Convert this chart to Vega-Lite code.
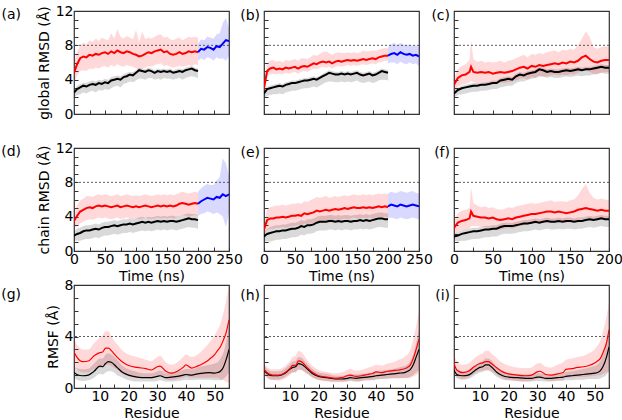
{
"$schema":"https://vega.github.io/schema/vega-lite/v6.json",
"padding":{"left":0,"top":3,"right":0,"bottom":0},
"background":"white",
"datasets":{"d":[
{"p":"a","s":"k","x":0,"y":2.5,"l":1.9,"h":2.8},{"p":"a","s":"k","x":5,"y":2.9,"l":2.2,"h":3.3},{"p":"a","s":"k","x":10,"y":3.1,"l":2.3,"h":3.5},{"p":"a","s":"k","x":15,"y":3.3,"l":2.5,"h":3.6},{"p":"a","s":"k","x":20,"y":3.2,"l":2.4,"h":3.6},{"p":"a","s":"k","x":25,"y":3.4,"l":2.6,"h":3.8},{"p":"a","s":"k","x":30,"y":3.5,"l":2.7,"h":3.9},{"p":"a","s":"k","x":35,"y":3.4,"l":2.5,"h":3.8},{"p":"a","s":"k","x":40,"y":3.6,"l":2.8,"h":4.0},{"p":"a","s":"k","x":45,"y":3.5,"l":2.7,"h":3.9},{"p":"a","s":"k","x":50,"y":3.7,"l":2.9,"h":4.1},{"p":"a","s":"k","x":55,"y":3.6,"l":2.8,"h":4.0},{"p":"a","s":"k","x":60,"y":3.9,"l":3.0,"h":4.3},{"p":"a","s":"k","x":65,"y":4.0,"l":3.2,"h":4.4},{"p":"a","s":"k","x":70,"y":4.1,"l":3.3,"h":4.5},{"p":"a","s":"k","x":75,"y":4.0,"l":3.1,"h":4.4},{"p":"a","s":"k","x":80,"y":4.3,"l":3.5,"h":4.6},{"p":"a","s":"k","x":85,"y":4.4,"l":3.6,"h":4.8},{"p":"a","s":"k","x":90,"y":4.6,"l":3.8,"h":4.9},{"p":"a","s":"k","x":95,"y":4.5,"l":3.7,"h":4.9},{"p":"a","s":"k","x":100,"y":4.8,"l":3.9,"h":5.1},{"p":"a","s":"k","x":105,"y":5.1,"l":4.1,"h":5.4},{"p":"a","s":"k","x":110,"y":5.0,"l":4.1,"h":5.3},{"p":"a","s":"k","x":115,"y":4.9,"l":4.0,"h":5.2},{"p":"a","s":"k","x":120,"y":5.1,"l":4.2,"h":5.4},{"p":"a","s":"k","x":125,"y":5.0,"l":4.2,"h":5.3},{"p":"a","s":"k","x":130,"y":4.8,"l":4.0,"h":5.1},{"p":"a","s":"k","x":135,"y":5.0,"l":4.1,"h":5.3},{"p":"a","s":"k","x":140,"y":4.9,"l":4.0,"h":5.2},{"p":"a","s":"k","x":145,"y":5.0,"l":4.2,"h":5.3},{"p":"a","s":"k","x":150,"y":4.9,"l":4.1,"h":5.2},{"p":"a","s":"k","x":155,"y":5.0,"l":4.1,"h":5.3},{"p":"a","s":"k","x":160,"y":4.8,"l":4.0,"h":5.1},{"p":"a","s":"k","x":165,"y":4.9,"l":4.1,"h":5.2},{"p":"a","s":"k","x":170,"y":5.0,"l":4.2,"h":5.3},{"p":"a","s":"k","x":175,"y":4.9,"l":4.0,"h":5.2},{"p":"a","s":"k","x":180,"y":5.1,"l":4.2,"h":5.4},{"p":"a","s":"k","x":185,"y":5.2,"l":4.3,"h":5.5},{"p":"a","s":"k","x":190,"y":5.3,"l":4.4,"h":5.6},{"p":"a","s":"k","x":195,"y":5.1,"l":4.3,"h":5.4},{"p":"a","s":"k","x":200,"y":5.0,"l":4.2,"h":5.3},
{"p":"a","s":"r","x":0,"y":4.8,"l":3.6,"h":6.0},{"p":"a","s":"r","x":5,"y":5.8,"l":4.5,"h":7.2},{"p":"a","s":"r","x":10,"y":6.5,"l":5.0,"h":8.0},{"p":"a","s":"r","x":15,"y":6.7,"l":5.1,"h":8.3},{"p":"a","s":"r","x":20,"y":6.6,"l":5.0,"h":8.1},{"p":"a","s":"r","x":25,"y":6.9,"l":5.3,"h":8.6},{"p":"a","s":"r","x":30,"y":6.8,"l":5.2,"h":8.4},{"p":"a","s":"r","x":35,"y":7.0,"l":5.4,"h":8.8},{"p":"a","s":"r","x":40,"y":6.9,"l":5.3,"h":8.5},{"p":"a","s":"r","x":45,"y":7.1,"l":5.5,"h":8.9},{"p":"a","s":"r","x":50,"y":7.2,"l":5.6,"h":8.7},{"p":"a","s":"r","x":55,"y":7.0,"l":5.4,"h":8.6},{"p":"a","s":"r","x":60,"y":7.3,"l":5.7,"h":9.4},{"p":"a","s":"r","x":65,"y":7.1,"l":5.5,"h":8.8},{"p":"a","s":"r","x":70,"y":7.4,"l":5.8,"h":9.9},{"p":"a","s":"r","x":75,"y":7.2,"l":5.6,"h":9.0},{"p":"a","s":"r","x":80,"y":7.1,"l":5.5,"h":8.8},{"p":"a","s":"r","x":85,"y":7.3,"l":5.7,"h":9.1},{"p":"a","s":"r","x":90,"y":7.2,"l":5.6,"h":8.9},{"p":"a","s":"r","x":95,"y":7.0,"l":5.5,"h":8.7},{"p":"a","s":"r","x":100,"y":6.9,"l":5.3,"h":9.8},{"p":"a","s":"r","x":105,"y":6.7,"l":5.2,"h":8.4},{"p":"a","s":"r","x":110,"y":6.8,"l":5.3,"h":9.6},{"p":"a","s":"r","x":115,"y":7.0,"l":5.4,"h":8.7},{"p":"a","s":"r","x":120,"y":7.2,"l":5.6,"h":8.9},{"p":"a","s":"r","x":125,"y":7.1,"l":5.5,"h":8.8},{"p":"a","s":"r","x":130,"y":7.3,"l":5.7,"h":9.0},{"p":"a","s":"r","x":135,"y":7.4,"l":5.8,"h":9.2},{"p":"a","s":"r","x":140,"y":7.5,"l":5.9,"h":9.3},{"p":"a","s":"r","x":145,"y":7.2,"l":5.6,"h":8.9},{"p":"a","s":"r","x":150,"y":7.3,"l":5.7,"h":9.0},{"p":"a","s":"r","x":155,"y":7.0,"l":5.5,"h":8.7},{"p":"a","s":"r","x":160,"y":6.9,"l":5.4,"h":8.6},{"p":"a","s":"r","x":165,"y":7.0,"l":5.5,"h":8.8},{"p":"a","s":"r","x":170,"y":7.2,"l":5.6,"h":8.9},{"p":"a","s":"r","x":175,"y":7.0,"l":5.5,"h":8.6},{"p":"a","s":"r","x":180,"y":7.1,"l":5.6,"h":8.8},{"p":"a","s":"r","x":185,"y":7.3,"l":5.7,"h":9.0},{"p":"a","s":"r","x":190,"y":7.2,"l":5.6,"h":8.9},{"p":"a","s":"r","x":195,"y":7.3,"l":5.8,"h":9.0},{"p":"a","s":"r","x":200,"y":7.2,"l":5.7,"h":8.9},
{"p":"a","s":"b","x":200,"y":7.2,"l":6.2,"h":8.2},{"p":"a","s":"b","x":205,"y":7.6,"l":6.5,"h":8.7},{"p":"a","s":"b","x":210,"y":7.5,"l":6.3,"h":8.6},{"p":"a","s":"b","x":215,"y":7.8,"l":6.6,"h":9.0},{"p":"a","s":"b","x":220,"y":7.7,"l":6.5,"h":8.9},{"p":"a","s":"b","x":225,"y":7.5,"l":6.2,"h":8.8},{"p":"a","s":"b","x":230,"y":7.9,"l":6.6,"h":9.3},{"p":"a","s":"b","x":235,"y":7.8,"l":6.4,"h":9.4},{"p":"a","s":"b","x":240,"y":8.2,"l":6.5,"h":10.6},{"p":"a","s":"b","x":245,"y":8.6,"l":6.2,"h":11.2},{"p":"a","s":"b","x":250,"y":8.5,"l":6.8,"h":10.0},
{"p":"b","s":"k","x":0,"y":2.4,"l":1.8,"h":2.7},{"p":"b","s":"k","x":5,"y":2.9,"l":2.1,"h":3.2},{"p":"b","s":"k","x":10,"y":3.0,"l":2.2,"h":3.3},{"p":"b","s":"k","x":15,"y":3.1,"l":2.3,"h":3.4},{"p":"b","s":"k","x":20,"y":3.2,"l":2.3,"h":3.5},{"p":"b","s":"k","x":25,"y":3.3,"l":2.4,"h":3.6},{"p":"b","s":"k","x":30,"y":3.2,"l":2.3,"h":3.5},{"p":"b","s":"k","x":35,"y":3.4,"l":2.5,"h":3.7},{"p":"b","s":"k","x":40,"y":3.5,"l":2.6,"h":3.8},{"p":"b","s":"k","x":45,"y":3.6,"l":2.7,"h":3.9},{"p":"b","s":"k","x":50,"y":3.6,"l":2.7,"h":3.9},{"p":"b","s":"k","x":55,"y":3.7,"l":2.8,"h":4.0},{"p":"b","s":"k","x":60,"y":3.8,"l":2.9,"h":4.1},{"p":"b","s":"k","x":65,"y":3.9,"l":3.0,"h":4.2},{"p":"b","s":"k","x":70,"y":3.9,"l":3.0,"h":4.2},{"p":"b","s":"k","x":75,"y":4.0,"l":3.1,"h":4.3},{"p":"b","s":"k","x":80,"y":4.1,"l":3.2,"h":4.4},{"p":"b","s":"k","x":85,"y":4.0,"l":3.1,"h":4.3},{"p":"b","s":"k","x":90,"y":4.2,"l":3.3,"h":4.5},{"p":"b","s":"k","x":95,"y":4.4,"l":3.5,"h":4.7},{"p":"b","s":"k","x":100,"y":4.6,"l":3.7,"h":4.9},{"p":"b","s":"k","x":105,"y":4.8,"l":3.8,"h":5.1},{"p":"b","s":"k","x":110,"y":4.7,"l":3.8,"h":5.0},{"p":"b","s":"k","x":115,"y":4.6,"l":3.7,"h":4.9},{"p":"b","s":"k","x":120,"y":4.6,"l":3.7,"h":4.9},{"p":"b","s":"k","x":125,"y":4.7,"l":3.8,"h":5.0},{"p":"b","s":"k","x":130,"y":4.6,"l":3.7,"h":4.9},{"p":"b","s":"k","x":135,"y":4.7,"l":3.8,"h":5.0},{"p":"b","s":"k","x":140,"y":4.6,"l":3.7,"h":4.9},{"p":"b","s":"k","x":145,"y":4.7,"l":3.8,"h":5.0},{"p":"b","s":"k","x":150,"y":4.8,"l":3.9,"h":5.1},{"p":"b","s":"k","x":155,"y":4.6,"l":3.7,"h":4.9},{"p":"b","s":"k","x":160,"y":4.5,"l":3.6,"h":4.8},{"p":"b","s":"k","x":165,"y":4.6,"l":3.7,"h":4.9},{"p":"b","s":"k","x":170,"y":4.7,"l":3.8,"h":5.0},{"p":"b","s":"k","x":175,"y":4.5,"l":3.6,"h":4.8},{"p":"b","s":"k","x":180,"y":4.6,"l":3.7,"h":4.9},{"p":"b","s":"k","x":185,"y":4.8,"l":3.9,"h":5.1},{"p":"b","s":"k","x":190,"y":5.0,"l":4.0,"h":5.3},{"p":"b","s":"k","x":195,"y":4.9,"l":4.0,"h":5.2},{"p":"b","s":"k","x":200,"y":4.8,"l":3.9,"h":5.1},
{"p":"b","s":"r","x":0,"y":3.0,"l":2.5,"h":3.5},{"p":"b","s":"r","x":5,"y":5.0,"l":4.3,"h":5.9},{"p":"b","s":"r","x":10,"y":5.3,"l":4.6,"h":6.2},{"p":"b","s":"r","x":15,"y":5.4,"l":4.7,"h":6.3},{"p":"b","s":"r","x":20,"y":5.2,"l":4.6,"h":6.1},{"p":"b","s":"r","x":25,"y":5.3,"l":4.7,"h":6.2},{"p":"b","s":"r","x":30,"y":5.2,"l":4.6,"h":6.0},{"p":"b","s":"r","x":35,"y":5.4,"l":4.8,"h":6.3},{"p":"b","s":"r","x":40,"y":5.3,"l":4.7,"h":6.2},{"p":"b","s":"r","x":45,"y":5.4,"l":4.8,"h":6.3},{"p":"b","s":"r","x":50,"y":5.5,"l":4.9,"h":6.4},{"p":"b","s":"r","x":55,"y":5.3,"l":4.7,"h":6.2},{"p":"b","s":"r","x":60,"y":5.5,"l":4.9,"h":6.5},{"p":"b","s":"r","x":65,"y":5.6,"l":5.0,"h":6.5},{"p":"b","s":"r","x":70,"y":5.5,"l":4.9,"h":6.4},{"p":"b","s":"r","x":75,"y":5.7,"l":5.1,"h":6.6},{"p":"b","s":"r","x":80,"y":5.9,"l":5.3,"h":6.9},{"p":"b","s":"r","x":85,"y":5.8,"l":5.2,"h":6.8},{"p":"b","s":"r","x":90,"y":6.0,"l":5.4,"h":7.0},{"p":"b","s":"r","x":95,"y":6.1,"l":5.5,"h":7.2},{"p":"b","s":"r","x":100,"y":6.0,"l":5.4,"h":7.3},{"p":"b","s":"r","x":105,"y":6.1,"l":5.5,"h":7.1},{"p":"b","s":"r","x":110,"y":5.9,"l":5.3,"h":6.9},{"p":"b","s":"r","x":115,"y":6.1,"l":5.5,"h":7.1},{"p":"b","s":"r","x":120,"y":6.2,"l":5.6,"h":7.2},{"p":"b","s":"r","x":125,"y":6.1,"l":5.5,"h":7.1},{"p":"b","s":"r","x":130,"y":6.2,"l":5.6,"h":7.1},{"p":"b","s":"r","x":135,"y":6.3,"l":5.7,"h":7.2},{"p":"b","s":"r","x":140,"y":6.2,"l":5.6,"h":7.1},{"p":"b","s":"r","x":145,"y":6.3,"l":5.7,"h":7.2},{"p":"b","s":"r","x":150,"y":6.2,"l":5.6,"h":7.1},{"p":"b","s":"r","x":155,"y":6.3,"l":5.7,"h":7.2},{"p":"b","s":"r","x":160,"y":6.4,"l":5.8,"h":7.4},{"p":"b","s":"r","x":165,"y":6.3,"l":5.7,"h":7.3},{"p":"b","s":"r","x":170,"y":6.4,"l":5.8,"h":7.3},{"p":"b","s":"r","x":175,"y":6.5,"l":5.9,"h":7.4},{"p":"b","s":"r","x":180,"y":6.4,"l":5.8,"h":7.4},{"p":"b","s":"r","x":185,"y":6.6,"l":6.0,"h":7.5},{"p":"b","s":"r","x":190,"y":6.7,"l":6.1,"h":7.6},{"p":"b","s":"r","x":195,"y":6.8,"l":6.2,"h":7.7},{"p":"b","s":"r","x":200,"y":6.8,"l":6.2,"h":7.6},
{"p":"b","s":"b","x":200,"y":6.8,"l":5.9,"h":7.8},{"p":"b","s":"b","x":205,"y":7.0,"l":6.0,"h":8.1},{"p":"b","s":"b","x":210,"y":7.1,"l":6.0,"h":8.3},{"p":"b","s":"b","x":215,"y":6.9,"l":5.8,"h":8.0},{"p":"b","s":"b","x":220,"y":7.2,"l":6.1,"h":8.3},{"p":"b","s":"b","x":225,"y":7.0,"l":5.9,"h":8.1},{"p":"b","s":"b","x":230,"y":6.9,"l":5.8,"h":8.0},{"p":"b","s":"b","x":235,"y":7.0,"l":6.0,"h":8.1},{"p":"b","s":"b","x":240,"y":6.8,"l":5.8,"h":7.9},{"p":"b","s":"b","x":245,"y":6.9,"l":5.9,"h":8.0},{"p":"b","s":"b","x":250,"y":6.7,"l":5.6,"h":7.8},
{"p":"c","s":"k","x":0,"y":2.4,"l":1.9,"h":2.7},{"p":"c","s":"k","x":5,"y":2.8,"l":2.2,"h":3.1},{"p":"c","s":"k","x":10,"y":3.0,"l":2.3,"h":3.3},{"p":"c","s":"k","x":15,"y":3.1,"l":2.4,"h":3.4},{"p":"c","s":"k","x":20,"y":3.2,"l":2.5,"h":3.5},{"p":"c","s":"k","x":25,"y":3.3,"l":2.6,"h":3.6},{"p":"c","s":"k","x":30,"y":3.3,"l":2.6,"h":3.6},{"p":"c","s":"k","x":35,"y":3.4,"l":2.7,"h":3.7},{"p":"c","s":"k","x":40,"y":3.4,"l":2.7,"h":3.7},{"p":"c","s":"k","x":45,"y":3.5,"l":2.8,"h":3.8},{"p":"c","s":"k","x":50,"y":3.6,"l":2.9,"h":3.9},{"p":"c","s":"k","x":55,"y":3.6,"l":2.9,"h":3.9},{"p":"c","s":"k","x":60,"y":3.9,"l":3.1,"h":4.2},{"p":"c","s":"k","x":65,"y":4.0,"l":3.2,"h":4.3},{"p":"c","s":"k","x":70,"y":4.1,"l":3.3,"h":4.4},{"p":"c","s":"k","x":75,"y":4.0,"l":3.3,"h":4.3},{"p":"c","s":"k","x":80,"y":4.4,"l":3.6,"h":4.7},{"p":"c","s":"k","x":85,"y":4.6,"l":3.8,"h":4.9},{"p":"c","s":"k","x":90,"y":4.5,"l":3.8,"h":4.8},{"p":"c","s":"k","x":95,"y":4.7,"l":4.0,"h":5.0},{"p":"c","s":"k","x":100,"y":4.8,"l":4.1,"h":5.1},{"p":"c","s":"k","x":105,"y":4.9,"l":4.2,"h":5.2},{"p":"c","s":"k","x":110,"y":5.2,"l":4.4,"h":5.5},{"p":"c","s":"k","x":115,"y":5.1,"l":4.4,"h":5.4},{"p":"c","s":"k","x":120,"y":4.9,"l":4.2,"h":5.2},{"p":"c","s":"k","x":125,"y":5.0,"l":4.3,"h":5.3},{"p":"c","s":"k","x":130,"y":4.9,"l":4.2,"h":5.2},{"p":"c","s":"k","x":135,"y":4.9,"l":4.2,"h":5.2},{"p":"c","s":"k","x":140,"y":5.0,"l":4.3,"h":5.3},{"p":"c","s":"k","x":145,"y":5.1,"l":4.4,"h":5.4},{"p":"c","s":"k","x":150,"y":5.0,"l":4.3,"h":5.3},{"p":"c","s":"k","x":155,"y":5.1,"l":4.4,"h":5.4},{"p":"c","s":"k","x":160,"y":5.2,"l":4.5,"h":5.5},{"p":"c","s":"k","x":165,"y":5.1,"l":4.4,"h":5.4},{"p":"c","s":"k","x":170,"y":5.2,"l":4.5,"h":5.5},{"p":"c","s":"k","x":175,"y":5.2,"l":4.5,"h":5.5},{"p":"c","s":"k","x":180,"y":5.3,"l":4.6,"h":5.6},{"p":"c","s":"k","x":185,"y":5.4,"l":4.7,"h":5.7},{"p":"c","s":"k","x":190,"y":5.5,"l":4.8,"h":5.8},{"p":"c","s":"k","x":195,"y":5.4,"l":4.7,"h":5.7},{"p":"c","s":"k","x":200,"y":5.4,"l":4.7,"h":5.7},
{"p":"c","s":"r","x":0,"y":3.4,"l":2.6,"h":4.2},{"p":"c","s":"r","x":5,"y":4.2,"l":3.2,"h":5.2},{"p":"c","s":"r","x":10,"y":4.5,"l":3.4,"h":5.6},{"p":"c","s":"r","x":15,"y":4.6,"l":3.5,"h":5.8},{"p":"c","s":"r","x":20,"y":4.9,"l":3.7,"h":6.3},{"p":"c","s":"r","x":22,"y":5.5,"l":3.9,"h":8.6},{"p":"c","s":"r","x":25,"y":4.9,"l":3.7,"h":6.4},{"p":"c","s":"r","x":30,"y":4.8,"l":3.6,"h":6.1},{"p":"c","s":"r","x":35,"y":4.9,"l":3.7,"h":6.2},{"p":"c","s":"r","x":40,"y":4.8,"l":3.6,"h":6.0},{"p":"c","s":"r","x":45,"y":4.9,"l":3.7,"h":6.1},{"p":"c","s":"r","x":50,"y":4.7,"l":3.5,"h":6.0},{"p":"c","s":"r","x":55,"y":4.8,"l":3.6,"h":6.1},{"p":"c","s":"r","x":60,"y":4.9,"l":3.7,"h":6.2},{"p":"c","s":"r","x":65,"y":4.8,"l":3.6,"h":6.0},{"p":"c","s":"r","x":70,"y":4.9,"l":3.7,"h":6.2},{"p":"c","s":"r","x":75,"y":5.0,"l":3.8,"h":6.3},{"p":"c","s":"r","x":80,"y":5.2,"l":3.9,"h":6.5},{"p":"c","s":"r","x":85,"y":5.4,"l":4.1,"h":6.7},{"p":"c","s":"r","x":90,"y":5.5,"l":4.2,"h":6.9},{"p":"c","s":"r","x":95,"y":5.3,"l":4.0,"h":6.6},{"p":"c","s":"r","x":100,"y":5.6,"l":4.3,"h":7.0},{"p":"c","s":"r","x":105,"y":5.5,"l":4.2,"h":6.9},{"p":"c","s":"r","x":110,"y":5.7,"l":4.4,"h":7.1},{"p":"c","s":"r","x":115,"y":5.6,"l":4.3,"h":7.0},{"p":"c","s":"r","x":120,"y":5.7,"l":4.4,"h":7.2},{"p":"c","s":"r","x":125,"y":5.8,"l":4.5,"h":7.3},{"p":"c","s":"r","x":130,"y":5.9,"l":4.6,"h":7.4},{"p":"c","s":"r","x":135,"y":5.8,"l":4.5,"h":7.2},{"p":"c","s":"r","x":140,"y":6.0,"l":4.6,"h":7.5},{"p":"c","s":"r","x":145,"y":5.9,"l":4.5,"h":7.4},{"p":"c","s":"r","x":150,"y":6.1,"l":4.7,"h":7.6},{"p":"c","s":"r","x":155,"y":6.0,"l":4.6,"h":7.5},{"p":"c","s":"r","x":160,"y":6.2,"l":4.8,"h":8.0},{"p":"c","s":"r","x":165,"y":6.6,"l":5.0,"h":8.8},{"p":"c","s":"r","x":170,"y":6.8,"l":5.1,"h":9.6},{"p":"c","s":"r","x":175,"y":6.4,"l":4.9,"h":9.0},{"p":"c","s":"r","x":180,"y":6.1,"l":4.7,"h":7.8},{"p":"c","s":"r","x":185,"y":6.0,"l":4.6,"h":7.6},{"p":"c","s":"r","x":190,"y":6.2,"l":4.8,"h":7.8},{"p":"c","s":"r","x":195,"y":6.3,"l":4.9,"h":7.9},{"p":"c","s":"r","x":200,"y":6.3,"l":4.9,"h":7.8},
{"p":"d","s":"k","x":0,"y":1.8,"l":1.2,"h":2.3},{"p":"d","s":"k","x":5,"y":2.0,"l":1.2,"h":2.6},{"p":"d","s":"k","x":10,"y":2.1,"l":1.2,"h":2.7},{"p":"d","s":"k","x":15,"y":2.3,"l":1.3,"h":2.9},{"p":"d","s":"k","x":20,"y":2.4,"l":1.4,"h":3.0},{"p":"d","s":"k","x":25,"y":2.4,"l":1.4,"h":3.0},{"p":"d","s":"k","x":30,"y":2.5,"l":1.5,"h":3.1},{"p":"d","s":"k","x":35,"y":2.6,"l":1.6,"h":3.2},{"p":"d","s":"k","x":40,"y":2.5,"l":1.5,"h":3.1},{"p":"d","s":"k","x":45,"y":2.7,"l":1.7,"h":3.3},{"p":"d","s":"k","x":50,"y":2.8,"l":1.8,"h":3.4},{"p":"d","s":"k","x":55,"y":2.8,"l":1.8,"h":3.4},{"p":"d","s":"k","x":60,"y":2.9,"l":1.9,"h":3.5},{"p":"d","s":"k","x":65,"y":3.0,"l":2.0,"h":3.6},{"p":"d","s":"k","x":70,"y":2.9,"l":1.9,"h":3.5},{"p":"d","s":"k","x":75,"y":3.0,"l":2.0,"h":3.6},{"p":"d","s":"k","x":80,"y":3.1,"l":2.1,"h":3.7},{"p":"d","s":"k","x":85,"y":3.1,"l":2.1,"h":3.7},{"p":"d","s":"k","x":90,"y":3.2,"l":2.2,"h":3.8},{"p":"d","s":"k","x":95,"y":3.1,"l":2.1,"h":3.7},{"p":"d","s":"k","x":100,"y":3.2,"l":2.2,"h":3.8},{"p":"d","s":"k","x":105,"y":3.3,"l":2.3,"h":3.9},{"p":"d","s":"k","x":110,"y":3.4,"l":2.4,"h":4.0},{"p":"d","s":"k","x":115,"y":3.3,"l":2.3,"h":3.9},{"p":"d","s":"k","x":120,"y":3.4,"l":2.4,"h":4.0},{"p":"d","s":"k","x":125,"y":3.3,"l":2.3,"h":3.9},{"p":"d","s":"k","x":130,"y":3.4,"l":2.4,"h":4.0},{"p":"d","s":"k","x":135,"y":3.5,"l":2.5,"h":4.1},{"p":"d","s":"k","x":140,"y":3.4,"l":2.4,"h":4.0},{"p":"d","s":"k","x":145,"y":3.5,"l":2.5,"h":4.1},{"p":"d","s":"k","x":150,"y":3.4,"l":2.4,"h":4.0},{"p":"d","s":"k","x":155,"y":3.5,"l":2.5,"h":4.1},{"p":"d","s":"k","x":160,"y":3.5,"l":2.5,"h":4.1},{"p":"d","s":"k","x":165,"y":3.4,"l":2.4,"h":4.0},{"p":"d","s":"k","x":170,"y":3.5,"l":2.5,"h":4.1},{"p":"d","s":"k","x":175,"y":3.6,"l":2.6,"h":4.2},{"p":"d","s":"k","x":180,"y":3.7,"l":2.7,"h":4.3},{"p":"d","s":"k","x":185,"y":3.8,"l":2.8,"h":4.4},{"p":"d","s":"k","x":190,"y":3.7,"l":2.7,"h":4.3},{"p":"d","s":"k","x":195,"y":3.7,"l":2.7,"h":4.3},{"p":"d","s":"k","x":200,"y":3.6,"l":2.6,"h":4.2},
{"p":"d","s":"r","x":0,"y":3.5,"l":2.6,"h":4.4},{"p":"d","s":"r","x":5,"y":4.1,"l":2.9,"h":5.3},{"p":"d","s":"r","x":10,"y":4.6,"l":3.2,"h":5.9},{"p":"d","s":"r","x":15,"y":4.8,"l":3.4,"h":6.1},{"p":"d","s":"r","x":20,"y":5.0,"l":3.6,"h":6.4},{"p":"d","s":"r","x":25,"y":5.1,"l":3.7,"h":6.4},{"p":"d","s":"r","x":30,"y":5.0,"l":3.6,"h":6.3},{"p":"d","s":"r","x":35,"y":5.2,"l":3.8,"h":6.5},{"p":"d","s":"r","x":40,"y":5.3,"l":3.9,"h":6.6},{"p":"d","s":"r","x":45,"y":5.2,"l":3.8,"h":6.5},{"p":"d","s":"r","x":50,"y":5.3,"l":3.9,"h":6.6},{"p":"d","s":"r","x":55,"y":5.2,"l":3.8,"h":6.5},{"p":"d","s":"r","x":60,"y":5.1,"l":3.7,"h":6.4},{"p":"d","s":"r","x":65,"y":5.2,"l":3.8,"h":6.5},{"p":"d","s":"r","x":70,"y":5.3,"l":3.9,"h":6.6},{"p":"d","s":"r","x":75,"y":5.1,"l":3.7,"h":6.4},{"p":"d","s":"r","x":80,"y":5.2,"l":3.8,"h":6.5},{"p":"d","s":"r","x":85,"y":5.3,"l":3.9,"h":6.6},{"p":"d","s":"r","x":90,"y":5.2,"l":3.8,"h":6.5},{"p":"d","s":"r","x":95,"y":5.1,"l":3.7,"h":6.4},{"p":"d","s":"r","x":100,"y":5.2,"l":3.8,"h":6.5},{"p":"d","s":"r","x":105,"y":5.1,"l":3.7,"h":6.4},{"p":"d","s":"r","x":110,"y":5.2,"l":3.8,"h":6.5},{"p":"d","s":"r","x":115,"y":5.3,"l":3.9,"h":6.6},{"p":"d","s":"r","x":120,"y":5.2,"l":3.8,"h":6.5},{"p":"d","s":"r","x":125,"y":5.1,"l":3.7,"h":6.4},{"p":"d","s":"r","x":130,"y":5.2,"l":3.8,"h":6.5},{"p":"d","s":"r","x":135,"y":5.3,"l":3.9,"h":6.6},{"p":"d","s":"r","x":140,"y":5.2,"l":3.8,"h":6.5},{"p":"d","s":"r","x":145,"y":5.3,"l":3.9,"h":6.6},{"p":"d","s":"r","x":150,"y":5.2,"l":3.8,"h":6.5},{"p":"d","s":"r","x":155,"y":5.3,"l":3.9,"h":6.6},{"p":"d","s":"r","x":160,"y":5.2,"l":3.8,"h":6.5},{"p":"d","s":"r","x":165,"y":5.3,"l":3.9,"h":6.6},{"p":"d","s":"r","x":170,"y":5.5,"l":4.1,"h":6.8},{"p":"d","s":"r","x":175,"y":5.6,"l":4.2,"h":6.9},{"p":"d","s":"r","x":180,"y":5.5,"l":4.1,"h":6.8},{"p":"d","s":"r","x":185,"y":5.4,"l":4.0,"h":6.7},{"p":"d","s":"r","x":190,"y":5.5,"l":4.1,"h":6.8},{"p":"d","s":"r","x":195,"y":5.6,"l":4.2,"h":6.9},{"p":"d","s":"r","x":200,"y":5.5,"l":4.1,"h":6.8},
{"p":"d","s":"b","x":200,"y":5.5,"l":4.1,"h":6.9},{"p":"d","s":"b","x":205,"y":5.8,"l":4.3,"h":7.3},{"p":"d","s":"b","x":210,"y":6.0,"l":4.4,"h":7.6},{"p":"d","s":"b","x":215,"y":6.2,"l":4.6,"h":7.8},{"p":"d","s":"b","x":220,"y":6.1,"l":4.5,"h":7.7},{"p":"d","s":"b","x":225,"y":6.0,"l":4.3,"h":7.7},{"p":"d","s":"b","x":230,"y":6.3,"l":4.5,"h":8.2},{"p":"d","s":"b","x":235,"y":6.2,"l":4.3,"h":8.6},{"p":"d","s":"b","x":240,"y":6.6,"l":4.0,"h":10.8},{"p":"d","s":"b","x":245,"y":6.4,"l":2.8,"h":10.2},{"p":"d","s":"b","x":250,"y":6.6,"l":4.4,"h":8.8},
{"p":"e","s":"k","x":0,"y":1.7,"l":1.1,"h":2.2},{"p":"e","s":"k","x":5,"y":2.0,"l":1.1,"h":2.6},{"p":"e","s":"k","x":10,"y":2.1,"l":1.1,"h":2.8},{"p":"e","s":"k","x":15,"y":2.2,"l":1.2,"h":2.9},{"p":"e","s":"k","x":20,"y":2.3,"l":1.3,"h":3.0},{"p":"e","s":"k","x":25,"y":2.3,"l":1.3,"h":3.0},{"p":"e","s":"k","x":30,"y":2.4,"l":1.4,"h":3.1},{"p":"e","s":"k","x":35,"y":2.4,"l":1.4,"h":3.1},{"p":"e","s":"k","x":40,"y":2.5,"l":1.5,"h":3.2},{"p":"e","s":"k","x":45,"y":2.6,"l":1.6,"h":3.3},{"p":"e","s":"k","x":50,"y":2.6,"l":1.6,"h":3.3},{"p":"e","s":"k","x":55,"y":2.7,"l":1.7,"h":3.4},{"p":"e","s":"k","x":60,"y":2.9,"l":1.9,"h":3.6},{"p":"e","s":"k","x":65,"y":2.8,"l":1.8,"h":3.5},{"p":"e","s":"k","x":70,"y":3.0,"l":2.0,"h":3.7},{"p":"e","s":"k","x":75,"y":3.0,"l":2.0,"h":3.7},{"p":"e","s":"k","x":80,"y":3.1,"l":2.1,"h":3.8},{"p":"e","s":"k","x":85,"y":3.3,"l":2.3,"h":4.0},{"p":"e","s":"k","x":90,"y":3.4,"l":2.4,"h":4.1},{"p":"e","s":"k","x":95,"y":3.4,"l":2.4,"h":4.1},{"p":"e","s":"k","x":100,"y":3.4,"l":2.4,"h":4.1},{"p":"e","s":"k","x":105,"y":3.5,"l":2.5,"h":4.2},{"p":"e","s":"k","x":110,"y":3.5,"l":2.5,"h":4.2},{"p":"e","s":"k","x":115,"y":3.4,"l":2.4,"h":4.1},{"p":"e","s":"k","x":120,"y":3.5,"l":2.5,"h":4.2},{"p":"e","s":"k","x":125,"y":3.4,"l":2.4,"h":4.1},{"p":"e","s":"k","x":130,"y":3.5,"l":2.5,"h":4.2},{"p":"e","s":"k","x":135,"y":3.5,"l":2.5,"h":4.2},{"p":"e","s":"k","x":140,"y":3.4,"l":2.4,"h":4.1},{"p":"e","s":"k","x":145,"y":3.5,"l":2.5,"h":4.2},{"p":"e","s":"k","x":150,"y":3.5,"l":2.5,"h":4.2},{"p":"e","s":"k","x":155,"y":3.6,"l":2.6,"h":4.3},{"p":"e","s":"k","x":160,"y":3.5,"l":2.5,"h":4.2},{"p":"e","s":"k","x":165,"y":3.6,"l":2.6,"h":4.3},{"p":"e","s":"k","x":170,"y":3.5,"l":2.5,"h":4.2},{"p":"e","s":"k","x":175,"y":3.6,"l":2.6,"h":4.3},{"p":"e","s":"k","x":180,"y":3.7,"l":2.7,"h":4.4},{"p":"e","s":"k","x":185,"y":3.8,"l":2.8,"h":4.5},{"p":"e","s":"k","x":190,"y":3.8,"l":2.8,"h":4.5},{"p":"e","s":"k","x":195,"y":3.7,"l":2.7,"h":4.4},{"p":"e","s":"k","x":200,"y":3.7,"l":2.7,"h":4.4},
{"p":"e","s":"r","x":0,"y":2.5,"l":1.8,"h":3.2},{"p":"e","s":"r","x":5,"y":3.6,"l":2.5,"h":4.8},{"p":"e","s":"r","x":10,"y":3.8,"l":2.6,"h":5.1},{"p":"e","s":"r","x":15,"y":3.8,"l":2.6,"h":5.2},{"p":"e","s":"r","x":20,"y":3.9,"l":2.7,"h":5.3},{"p":"e","s":"r","x":25,"y":3.9,"l":2.7,"h":5.3},{"p":"e","s":"r","x":30,"y":4.0,"l":2.8,"h":5.4},{"p":"e","s":"r","x":35,"y":3.9,"l":2.7,"h":5.3},{"p":"e","s":"r","x":40,"y":4.0,"l":2.8,"h":5.4},{"p":"e","s":"r","x":45,"y":4.1,"l":2.9,"h":5.5},{"p":"e","s":"r","x":50,"y":4.1,"l":2.9,"h":5.5},{"p":"e","s":"r","x":55,"y":4.2,"l":3.0,"h":5.6},{"p":"e","s":"r","x":60,"y":4.1,"l":2.9,"h":5.5},{"p":"e","s":"r","x":65,"y":4.4,"l":3.2,"h":5.8},{"p":"e","s":"r","x":70,"y":4.3,"l":3.1,"h":5.7},{"p":"e","s":"r","x":75,"y":4.4,"l":3.2,"h":5.9},{"p":"e","s":"r","x":80,"y":4.5,"l":3.3,"h":6.1},{"p":"e","s":"r","x":85,"y":4.7,"l":3.5,"h":6.3},{"p":"e","s":"r","x":90,"y":4.6,"l":3.4,"h":6.2},{"p":"e","s":"r","x":95,"y":4.7,"l":3.5,"h":6.3},{"p":"e","s":"r","x":100,"y":4.8,"l":3.6,"h":6.4},{"p":"e","s":"r","x":105,"y":4.7,"l":3.5,"h":6.2},{"p":"e","s":"r","x":110,"y":4.8,"l":3.6,"h":6.3},{"p":"e","s":"r","x":115,"y":4.9,"l":3.7,"h":6.4},{"p":"e","s":"r","x":120,"y":4.8,"l":3.6,"h":6.3},{"p":"e","s":"r","x":125,"y":4.9,"l":3.7,"h":6.4},{"p":"e","s":"r","x":130,"y":5.0,"l":3.8,"h":6.5},{"p":"e","s":"r","x":135,"y":4.9,"l":3.7,"h":6.4},{"p":"e","s":"r","x":140,"y":5.0,"l":3.8,"h":6.5},{"p":"e","s":"r","x":145,"y":5.1,"l":3.9,"h":6.6},{"p":"e","s":"r","x":150,"y":5.0,"l":3.8,"h":6.5},{"p":"e","s":"r","x":155,"y":5.0,"l":3.8,"h":6.5},{"p":"e","s":"r","x":160,"y":5.1,"l":3.9,"h":6.6},{"p":"e","s":"r","x":165,"y":5.0,"l":3.8,"h":6.5},{"p":"e","s":"r","x":170,"y":5.1,"l":3.9,"h":6.6},{"p":"e","s":"r","x":175,"y":5.0,"l":3.8,"h":6.5},{"p":"e","s":"r","x":180,"y":5.1,"l":3.9,"h":6.6},{"p":"e","s":"r","x":185,"y":5.2,"l":4.0,"h":6.7},{"p":"e","s":"r","x":190,"y":5.1,"l":3.9,"h":6.6},{"p":"e","s":"r","x":195,"y":5.2,"l":4.0,"h":6.7},{"p":"e","s":"r","x":200,"y":5.1,"l":3.9,"h":6.6},
{"p":"e","s":"b","x":200,"y":5.2,"l":3.8,"h":6.7},{"p":"e","s":"b","x":205,"y":5.4,"l":3.9,"h":6.9},{"p":"e","s":"b","x":210,"y":5.3,"l":3.8,"h":6.8},{"p":"e","s":"b","x":215,"y":5.2,"l":3.7,"h":6.8},{"p":"e","s":"b","x":220,"y":5.4,"l":3.9,"h":7.0},{"p":"e","s":"b","x":225,"y":5.3,"l":3.8,"h":6.9},{"p":"e","s":"b","x":230,"y":5.2,"l":3.7,"h":6.8},{"p":"e","s":"b","x":235,"y":5.3,"l":3.8,"h":6.9},{"p":"e","s":"b","x":240,"y":5.4,"l":3.9,"h":7.0},{"p":"e","s":"b","x":245,"y":5.3,"l":3.8,"h":6.8},{"p":"e","s":"b","x":250,"y":5.2,"l":3.7,"h":6.7},
{"p":"f","s":"k","x":0,"y":1.7,"l":1.2,"h":2.0},{"p":"f","s":"k","x":5,"y":1.8,"l":1.1,"h":2.2},{"p":"f","s":"k","x":10,"y":2.0,"l":1.2,"h":2.4},{"p":"f","s":"k","x":15,"y":2.1,"l":1.2,"h":2.5},{"p":"f","s":"k","x":20,"y":2.2,"l":1.3,"h":2.6},{"p":"f","s":"k","x":25,"y":2.3,"l":1.4,"h":2.7},{"p":"f","s":"k","x":30,"y":2.3,"l":1.4,"h":2.7},{"p":"f","s":"k","x":35,"y":2.4,"l":1.5,"h":2.8},{"p":"f","s":"k","x":40,"y":2.5,"l":1.6,"h":2.9},{"p":"f","s":"k","x":45,"y":2.5,"l":1.6,"h":2.9},{"p":"f","s":"k","x":50,"y":2.6,"l":1.7,"h":3.0},{"p":"f","s":"k","x":55,"y":2.6,"l":1.7,"h":3.0},{"p":"f","s":"k","x":60,"y":2.8,"l":1.9,"h":3.2},{"p":"f","s":"k","x":65,"y":2.9,"l":2.0,"h":3.3},{"p":"f","s":"k","x":70,"y":2.9,"l":2.0,"h":3.3},{"p":"f","s":"k","x":75,"y":2.9,"l":2.0,"h":3.3},{"p":"f","s":"k","x":80,"y":3.0,"l":2.1,"h":3.4},{"p":"f","s":"k","x":85,"y":3.1,"l":2.2,"h":3.5},{"p":"f","s":"k","x":90,"y":3.2,"l":2.3,"h":3.6},{"p":"f","s":"k","x":95,"y":3.2,"l":2.3,"h":3.6},{"p":"f","s":"k","x":100,"y":3.3,"l":2.4,"h":3.7},{"p":"f","s":"k","x":105,"y":3.4,"l":2.5,"h":3.8},{"p":"f","s":"k","x":110,"y":3.3,"l":2.4,"h":3.7},{"p":"f","s":"k","x":115,"y":3.4,"l":2.5,"h":3.8},{"p":"f","s":"k","x":120,"y":3.5,"l":2.6,"h":3.9},{"p":"f","s":"k","x":125,"y":3.4,"l":2.5,"h":3.8},{"p":"f","s":"k","x":130,"y":3.4,"l":2.5,"h":3.8},{"p":"f","s":"k","x":135,"y":3.5,"l":2.6,"h":3.9},{"p":"f","s":"k","x":140,"y":3.4,"l":2.5,"h":3.8},{"p":"f","s":"k","x":145,"y":3.5,"l":2.6,"h":3.9},{"p":"f","s":"k","x":150,"y":3.5,"l":2.6,"h":3.9},{"p":"f","s":"k","x":155,"y":3.4,"l":2.5,"h":3.8},{"p":"f","s":"k","x":160,"y":3.5,"l":2.6,"h":3.9},{"p":"f","s":"k","x":165,"y":3.5,"l":2.6,"h":3.9},{"p":"f","s":"k","x":170,"y":3.6,"l":2.7,"h":4.0},{"p":"f","s":"k","x":175,"y":3.7,"l":2.8,"h":4.1},{"p":"f","s":"k","x":180,"y":3.6,"l":2.7,"h":4.0},{"p":"f","s":"k","x":185,"y":3.7,"l":2.8,"h":4.1},{"p":"f","s":"k","x":190,"y":3.8,"l":2.9,"h":4.2},{"p":"f","s":"k","x":195,"y":3.7,"l":2.8,"h":4.1},{"p":"f","s":"k","x":200,"y":3.7,"l":2.8,"h":4.1},
{"p":"f","s":"r","x":0,"y":2.7,"l":1.9,"h":3.5},{"p":"f","s":"r","x":5,"y":3.3,"l":2.2,"h":4.4},{"p":"f","s":"r","x":10,"y":3.5,"l":2.4,"h":4.7},{"p":"f","s":"r","x":15,"y":3.6,"l":2.5,"h":4.8},{"p":"f","s":"r","x":20,"y":3.8,"l":2.6,"h":5.0},{"p":"f","s":"r","x":22,"y":4.6,"l":2.9,"h":7.4},{"p":"f","s":"r","x":25,"y":4.1,"l":2.9,"h":5.6},{"p":"f","s":"r","x":30,"y":4.0,"l":2.9,"h":5.3},{"p":"f","s":"r","x":35,"y":3.9,"l":2.8,"h":5.1},{"p":"f","s":"r","x":40,"y":3.9,"l":2.8,"h":5.2},{"p":"f","s":"r","x":45,"y":3.8,"l":2.7,"h":5.0},{"p":"f","s":"r","x":50,"y":3.9,"l":2.8,"h":5.1},{"p":"f","s":"r","x":55,"y":3.7,"l":2.6,"h":4.9},{"p":"f","s":"r","x":60,"y":3.6,"l":2.5,"h":4.8},{"p":"f","s":"r","x":65,"y":3.7,"l":2.6,"h":4.9},{"p":"f","s":"r","x":70,"y":3.8,"l":2.7,"h":5.1},{"p":"f","s":"r","x":75,"y":3.7,"l":2.6,"h":5.0},{"p":"f","s":"r","x":80,"y":3.9,"l":2.8,"h":5.2},{"p":"f","s":"r","x":85,"y":4.0,"l":2.9,"h":5.3},{"p":"f","s":"r","x":90,"y":4.1,"l":3.0,"h":5.4},{"p":"f","s":"r","x":95,"y":4.2,"l":3.1,"h":5.5},{"p":"f","s":"r","x":100,"y":4.3,"l":3.2,"h":5.6},{"p":"f","s":"r","x":105,"y":4.3,"l":3.2,"h":5.5},{"p":"f","s":"r","x":110,"y":4.4,"l":3.3,"h":5.6},{"p":"f","s":"r","x":115,"y":4.5,"l":3.4,"h":5.7},{"p":"f","s":"r","x":120,"y":4.6,"l":3.5,"h":5.8},{"p":"f","s":"r","x":125,"y":4.6,"l":3.5,"h":5.9},{"p":"f","s":"r","x":130,"y":4.5,"l":3.4,"h":5.7},{"p":"f","s":"r","x":135,"y":4.6,"l":3.5,"h":5.8},{"p":"f","s":"r","x":140,"y":4.5,"l":3.4,"h":5.8},{"p":"f","s":"r","x":145,"y":4.4,"l":3.3,"h":5.7},{"p":"f","s":"r","x":150,"y":4.5,"l":3.4,"h":5.9},{"p":"f","s":"r","x":155,"y":4.6,"l":3.5,"h":6.0},{"p":"f","s":"r","x":160,"y":4.8,"l":3.6,"h":6.5},{"p":"f","s":"r","x":165,"y":4.9,"l":3.7,"h":7.2},{"p":"f","s":"r","x":170,"y":5.0,"l":3.8,"h":7.8},{"p":"f","s":"r","x":175,"y":4.9,"l":3.7,"h":6.8},{"p":"f","s":"r","x":180,"y":4.8,"l":3.6,"h":6.2},{"p":"f","s":"r","x":185,"y":4.7,"l":3.6,"h":6.0},{"p":"f","s":"r","x":190,"y":4.8,"l":3.7,"h":6.1},{"p":"f","s":"r","x":195,"y":4.7,"l":3.6,"h":6.0},{"p":"f","s":"r","x":200,"y":4.7,"l":3.6,"h":5.9},
{"p":"g","s":"k","x":1,"y":1.2,"l":0.8,"h":1.7},{"p":"g","s":"k","x":2,"y":1.05,"l":0.65,"h":1.55},{"p":"g","s":"k","x":4,"y":0.95,"l":0.55,"h":1.45},{"p":"g","s":"k","x":6,"y":1.0,"l":0.6,"h":1.5},{"p":"g","s":"k","x":8,"y":1.3,"l":0.8,"h":1.9},{"p":"g","s":"k","x":10,"y":1.7,"l":1.1,"h":2.3},{"p":"g","s":"k","x":11,"y":1.65,"l":1.05,"h":2.3},{"p":"g","s":"k","x":12,"y":1.9,"l":1.2,"h":2.6},{"p":"g","s":"k","x":13,"y":2.05,"l":1.3,"h":2.7},{"p":"g","s":"k","x":14,"y":2.0,"l":1.3,"h":2.6},{"p":"g","s":"k","x":16,"y":1.6,"l":1.0,"h":2.2},{"p":"g","s":"k","x":18,"y":1.2,"l":0.8,"h":1.7},{"p":"g","s":"k","x":20,"y":1.0,"l":0.6,"h":1.45},{"p":"g","s":"k","x":23,"y":0.85,"l":0.5,"h":1.25},{"p":"g","s":"k","x":26,"y":0.8,"l":0.5,"h":1.15},{"p":"g","s":"k","x":28,"y":0.8,"l":0.5,"h":1.15},{"p":"g","s":"k","x":30,"y":0.9,"l":0.55,"h":1.3},{"p":"g","s":"k","x":31,"y":0.95,"l":0.6,"h":1.35},{"p":"g","s":"k","x":33,"y":0.8,"l":0.5,"h":1.15},{"p":"g","s":"k","x":35,"y":0.85,"l":0.5,"h":1.2},{"p":"g","s":"k","x":37,"y":0.9,"l":0.55,"h":1.3},{"p":"g","s":"k","x":39,"y":1.0,"l":0.6,"h":1.4},{"p":"g","s":"k","x":40,"y":1.05,"l":0.65,"h":1.5},{"p":"g","s":"k","x":42,"y":1.0,"l":0.6,"h":1.45},{"p":"g","s":"k","x":44,"y":1.1,"l":0.65,"h":1.6},{"p":"g","s":"k","x":46,"y":1.15,"l":0.65,"h":1.7},{"p":"g","s":"k","x":48,"y":1.2,"l":0.65,"h":1.8},{"p":"g","s":"k","x":50,"y":1.15,"l":0.6,"h":1.9},{"p":"g","s":"k","x":51,"y":1.2,"l":0.6,"h":2.0},{"p":"g","s":"k","x":52,"y":1.3,"l":0.6,"h":2.3},{"p":"g","s":"k","x":53,"y":1.6,"l":0.7,"h":2.7},{"p":"g","s":"k","x":54,"y":2.2,"l":0.9,"h":3.6},{"p":"g","s":"k","x":55,"y":3.0,"l":1.2,"h":4.8},
{"p":"g","s":"r","x":1,"y":2.8,"l":1.9,"h":3.8},{"p":"g","s":"r","x":2,"y":2.4,"l":1.5,"h":3.4},{"p":"g","s":"r","x":4,"y":2.05,"l":1.2,"h":3.0},{"p":"g","s":"r","x":6,"y":2.1,"l":1.2,"h":3.0},{"p":"g","s":"r","x":8,"y":2.5,"l":1.5,"h":3.5},{"p":"g","s":"r","x":10,"y":2.75,"l":1.6,"h":3.9},{"p":"g","s":"r","x":11,"y":2.8,"l":1.6,"h":4.1},{"p":"g","s":"r","x":12,"y":3.1,"l":1.8,"h":4.4},{"p":"g","s":"r","x":13,"y":3.1,"l":1.8,"h":4.4},{"p":"g","s":"r","x":14,"y":2.9,"l":1.7,"h":4.0},{"p":"g","s":"r","x":16,"y":2.4,"l":1.4,"h":3.4},{"p":"g","s":"r","x":18,"y":2.0,"l":1.1,"h":2.9},{"p":"g","s":"r","x":20,"y":1.75,"l":0.9,"h":2.6},{"p":"g","s":"r","x":23,"y":1.6,"l":0.8,"h":2.4},{"p":"g","s":"r","x":26,"y":1.5,"l":0.8,"h":2.2},{"p":"g","s":"r","x":28,"y":1.4,"l":0.7,"h":2.1},{"p":"g","s":"r","x":30,"y":1.65,"l":0.9,"h":2.4},{"p":"g","s":"r","x":31,"y":1.7,"l":0.9,"h":2.5},{"p":"g","s":"r","x":33,"y":1.3,"l":0.7,"h":2.0},{"p":"g","s":"r","x":35,"y":1.15,"l":0.6,"h":1.8},{"p":"g","s":"r","x":37,"y":1.3,"l":0.7,"h":2.0},{"p":"g","s":"r","x":39,"y":1.6,"l":0.8,"h":2.4},{"p":"g","s":"r","x":40,"y":1.8,"l":0.9,"h":2.6},{"p":"g","s":"r","x":42,"y":1.55,"l":0.8,"h":2.4},{"p":"g","s":"r","x":44,"y":1.7,"l":0.8,"h":2.6},{"p":"g","s":"r","x":46,"y":1.9,"l":0.8,"h":3.0},{"p":"g","s":"r","x":48,"y":2.2,"l":0.8,"h":3.5},{"p":"g","s":"r","x":50,"y":2.6,"l":0.8,"h":4.1},{"p":"g","s":"r","x":51,"y":2.9,"l":0.8,"h":4.5},{"p":"g","s":"r","x":52,"y":3.2,"l":0.7,"h":5.0},{"p":"g","s":"r","x":53,"y":3.7,"l":0.6,"h":5.8},{"p":"g","s":"r","x":54,"y":4.3,"l":0.5,"h":6.8},{"p":"g","s":"r","x":55,"y":5.3,"l":0.4,"h":8.0},
{"p":"h","s":"k","x":1,"y":1.4,"l":1.1,"h":1.75},{"p":"h","s":"k","x":2,"y":1.15,"l":0.85,"h":1.5},{"p":"h","s":"k","x":4,"y":0.95,"l":0.65,"h":1.3},{"p":"h","s":"k","x":6,"y":0.95,"l":0.65,"h":1.3},{"p":"h","s":"k","x":8,"y":1.1,"l":0.8,"h":1.45},{"p":"h","s":"k","x":10,"y":1.45,"l":1.1,"h":1.85},{"p":"h","s":"k","x":11,"y":1.6,"l":1.2,"h":2.05},{"p":"h","s":"k","x":12,"y":1.65,"l":1.25,"h":2.1},{"p":"h","s":"k","x":13,"y":1.9,"l":1.45,"h":2.4},{"p":"h","s":"k","x":14,"y":1.85,"l":1.4,"h":2.35},{"p":"h","s":"k","x":16,"y":1.5,"l":1.1,"h":1.9},{"p":"h","s":"k","x":18,"y":1.1,"l":0.8,"h":1.45},{"p":"h","s":"k","x":20,"y":0.9,"l":0.65,"h":1.2},{"p":"h","s":"k","x":23,"y":0.8,"l":0.55,"h":1.1},{"p":"h","s":"k","x":26,"y":0.7,"l":0.5,"h":0.95},{"p":"h","s":"k","x":28,"y":0.7,"l":0.5,"h":0.95},{"p":"h","s":"k","x":30,"y":0.75,"l":0.5,"h":1.05},{"p":"h","s":"k","x":31,"y":0.8,"l":0.55,"h":1.1},{"p":"h","s":"k","x":33,"y":0.75,"l":0.5,"h":1.05},{"p":"h","s":"k","x":35,"y":0.8,"l":0.55,"h":1.1},{"p":"h","s":"k","x":37,"y":0.85,"l":0.6,"h":1.15},{"p":"h","s":"k","x":39,"y":0.9,"l":0.6,"h":1.2},{"p":"h","s":"k","x":40,"y":0.95,"l":0.65,"h":1.3},{"p":"h","s":"k","x":42,"y":1.0,"l":0.7,"h":1.35},{"p":"h","s":"k","x":44,"y":1.05,"l":0.7,"h":1.4},{"p":"h","s":"k","x":46,"y":1.1,"l":0.75,"h":1.5},{"p":"h","s":"k","x":48,"y":1.15,"l":0.75,"h":1.6},{"p":"h","s":"k","x":50,"y":1.2,"l":0.8,"h":1.7},{"p":"h","s":"k","x":51,"y":1.3,"l":0.8,"h":1.85},{"p":"h","s":"k","x":52,"y":1.45,"l":0.9,"h":2.1},{"p":"h","s":"k","x":53,"y":1.8,"l":1.0,"h":2.6},{"p":"h","s":"k","x":54,"y":2.4,"l":1.2,"h":3.5},{"p":"h","s":"k","x":55,"y":3.0,"l":1.4,"h":4.5},
{"p":"h","s":"r","x":1,"y":1.45,"l":1.05,"h":1.9},{"p":"h","s":"r","x":2,"y":1.2,"l":0.8,"h":1.65},{"p":"h","s":"r","x":4,"y":1.0,"l":0.6,"h":1.45},{"p":"h","s":"r","x":6,"y":1.0,"l":0.6,"h":1.45},{"p":"h","s":"r","x":8,"y":1.15,"l":0.7,"h":1.65},{"p":"h","s":"r","x":10,"y":1.5,"l":1.0,"h":2.1},{"p":"h","s":"r","x":11,"y":1.75,"l":1.2,"h":2.4},{"p":"h","s":"r","x":12,"y":1.75,"l":1.2,"h":2.5},{"p":"h","s":"r","x":13,"y":2.1,"l":1.4,"h":2.9},{"p":"h","s":"r","x":14,"y":2.05,"l":1.4,"h":2.8},{"p":"h","s":"r","x":16,"y":1.6,"l":1.1,"h":2.2},{"p":"h","s":"r","x":18,"y":1.2,"l":0.8,"h":1.7},{"p":"h","s":"r","x":20,"y":0.95,"l":0.6,"h":1.4},{"p":"h","s":"r","x":23,"y":0.85,"l":0.5,"h":1.25},{"p":"h","s":"r","x":26,"y":0.75,"l":0.45,"h":1.15},{"p":"h","s":"r","x":28,"y":0.8,"l":0.45,"h":1.2},{"p":"h","s":"r","x":30,"y":0.95,"l":0.55,"h":1.4},{"p":"h","s":"r","x":31,"y":1.0,"l":0.6,"h":1.5},{"p":"h","s":"r","x":33,"y":0.9,"l":0.5,"h":1.35},{"p":"h","s":"r","x":35,"y":0.95,"l":0.55,"h":1.4},{"p":"h","s":"r","x":37,"y":1.05,"l":0.6,"h":1.55},{"p":"h","s":"r","x":39,"y":1.15,"l":0.65,"h":1.7},{"p":"h","s":"r","x":40,"y":1.25,"l":0.7,"h":1.8},{"p":"h","s":"r","x":42,"y":1.2,"l":0.7,"h":1.75},{"p":"h","s":"r","x":44,"y":1.3,"l":0.75,"h":1.9},{"p":"h","s":"r","x":46,"y":1.35,"l":0.75,"h":2.0},{"p":"h","s":"r","x":48,"y":1.4,"l":0.75,"h":2.2},{"p":"h","s":"r","x":50,"y":1.5,"l":0.75,"h":2.4},{"p":"h","s":"r","x":51,"y":1.6,"l":0.75,"h":2.6},{"p":"h","s":"r","x":52,"y":1.8,"l":0.8,"h":3.0},{"p":"h","s":"r","x":53,"y":2.3,"l":0.9,"h":3.8},{"p":"h","s":"r","x":54,"y":3.0,"l":1.0,"h":4.8},{"p":"h","s":"r","x":55,"y":3.8,"l":1.2,"h":6.0},
{"p":"i","s":"k","x":1,"y":1.4,"l":1.1,"h":1.75},{"p":"i","s":"k","x":2,"y":1.05,"l":0.75,"h":1.4},{"p":"i","s":"k","x":4,"y":0.95,"l":0.65,"h":1.3},{"p":"i","s":"k","x":6,"y":1.0,"l":0.7,"h":1.35},{"p":"i","s":"k","x":8,"y":1.3,"l":0.95,"h":1.7},{"p":"i","s":"k","x":10,"y":1.6,"l":1.2,"h":2.0},{"p":"i","s":"k","x":11,"y":1.65,"l":1.25,"h":2.1},{"p":"i","s":"k","x":12,"y":1.8,"l":1.35,"h":2.3},{"p":"i","s":"k","x":13,"y":1.8,"l":1.35,"h":2.3},{"p":"i","s":"k","x":14,"y":1.65,"l":1.2,"h":2.15},{"p":"i","s":"k","x":16,"y":1.2,"l":0.85,"h":1.6},{"p":"i","s":"k","x":18,"y":0.95,"l":0.65,"h":1.3},{"p":"i","s":"k","x":20,"y":0.85,"l":0.6,"h":1.15},{"p":"i","s":"k","x":23,"y":0.8,"l":0.55,"h":1.1},{"p":"i","s":"k","x":26,"y":0.75,"l":0.5,"h":1.05},{"p":"i","s":"k","x":28,"y":0.75,"l":0.5,"h":1.05},{"p":"i","s":"k","x":30,"y":0.85,"l":0.55,"h":1.15},{"p":"i","s":"k","x":31,"y":0.85,"l":0.55,"h":1.15},{"p":"i","s":"k","x":33,"y":0.75,"l":0.5,"h":1.05},{"p":"i","s":"k","x":35,"y":0.75,"l":0.5,"h":1.05},{"p":"i","s":"k","x":37,"y":0.8,"l":0.55,"h":1.1},{"p":"i","s":"k","x":39,"y":0.85,"l":0.55,"h":1.15},{"p":"i","s":"k","x":40,"y":0.9,"l":0.6,"h":1.25},{"p":"i","s":"k","x":42,"y":0.95,"l":0.6,"h":1.3},{"p":"i","s":"k","x":44,"y":1.0,"l":0.65,"h":1.4},{"p":"i","s":"k","x":46,"y":1.05,"l":0.65,"h":1.5},{"p":"i","s":"k","x":48,"y":1.1,"l":0.7,"h":1.6},{"p":"i","s":"k","x":50,"y":1.15,"l":0.7,"h":1.7},{"p":"i","s":"k","x":51,"y":1.2,"l":0.7,"h":1.85},{"p":"i","s":"k","x":52,"y":1.35,"l":0.75,"h":2.1},{"p":"i","s":"k","x":53,"y":1.7,"l":0.85,"h":2.6},{"p":"i","s":"k","x":54,"y":2.3,"l":1.0,"h":3.5},{"p":"i","s":"k","x":55,"y":3.2,"l":1.3,"h":4.8},
{"p":"i","s":"r","x":1,"y":1.9,"l":1.3,"h":2.6},{"p":"i","s":"r","x":2,"y":1.4,"l":0.9,"h":2.1},{"p":"i","s":"r","x":4,"y":1.2,"l":0.7,"h":1.8},{"p":"i","s":"r","x":6,"y":1.3,"l":0.8,"h":1.9},{"p":"i","s":"r","x":8,"y":1.65,"l":1.1,"h":2.3},{"p":"i","s":"r","x":10,"y":1.9,"l":1.3,"h":2.6},{"p":"i","s":"r","x":11,"y":1.95,"l":1.35,"h":2.7},{"p":"i","s":"r","x":12,"y":2.05,"l":1.4,"h":2.9},{"p":"i","s":"r","x":13,"y":2.05,"l":1.4,"h":2.9},{"p":"i","s":"r","x":14,"y":1.9,"l":1.3,"h":2.7},{"p":"i","s":"r","x":16,"y":1.55,"l":1.0,"h":2.3},{"p":"i","s":"r","x":18,"y":1.25,"l":0.75,"h":1.95},{"p":"i","s":"r","x":20,"y":1.1,"l":0.6,"h":1.75},{"p":"i","s":"r","x":23,"y":1.0,"l":0.55,"h":1.6},{"p":"i","s":"r","x":26,"y":0.95,"l":0.5,"h":1.55},{"p":"i","s":"r","x":28,"y":1.0,"l":0.55,"h":1.6},{"p":"i","s":"r","x":30,"y":1.25,"l":0.7,"h":1.9},{"p":"i","s":"r","x":31,"y":1.3,"l":0.75,"h":1.95},{"p":"i","s":"r","x":33,"y":1.05,"l":0.6,"h":1.65},{"p":"i","s":"r","x":35,"y":1.0,"l":0.55,"h":1.6},{"p":"i","s":"r","x":37,"y":1.1,"l":0.6,"h":1.8},{"p":"i","s":"r","x":39,"y":1.2,"l":0.65,"h":2.0},{"p":"i","s":"r","x":40,"y":1.45,"l":0.8,"h":2.2},{"p":"i","s":"r","x":42,"y":1.5,"l":0.8,"h":2.3},{"p":"i","s":"r","x":44,"y":1.6,"l":0.85,"h":2.4},{"p":"i","s":"r","x":46,"y":1.65,"l":0.85,"h":2.5},{"p":"i","s":"r","x":48,"y":1.75,"l":0.9,"h":2.7},{"p":"i","s":"r","x":50,"y":1.95,"l":0.95,"h":3.0},{"p":"i","s":"r","x":51,"y":2.1,"l":1.0,"h":3.3},{"p":"i","s":"r","x":52,"y":2.3,"l":1.0,"h":3.7},{"p":"i","s":"r","x":53,"y":2.8,"l":1.1,"h":4.5},{"p":"i","s":"r","x":54,"y":3.4,"l":1.2,"h":5.4},{"p":"i","s":"r","x":55,"y":4.5,"l":1.3,"h":6.6}
]},
"columns":3,
"spacing":{"row":34,"column":35},
"bounds":"flush",
"concat":[
{"width":155,"height":103,"title":{"text":"(a)","anchor":"start","frame":"group","align":"right","offset":0,"dx":-53,"dy":18},"resolve":{"axis":{"x":"independent","y":"independent"}},
"layer":[
{"data":{"name":"d"},"transform":[{"filter":"datum.p=='a'"}],"mark":{"type":"area","opacity":0.15,"clip":true},
"encoding":{"x":{"field":"x","type":"quantitative","scale":{"domain":[0,250],"nice":false},"axis":{"values":[0,25,50,75,100,125,150,175,200,225,250],"labels":false,"title":null,"tickSize":-4}},
"y":{"field":"l","type":"quantitative","scale":{"domain":[0,12],"nice":false},"axis":{"values":[0,1,2,3,4,5,6,7,8,9,10,11,12],"labelExpr":"datum.value % 4 == 0 ? datum.label : ''","labelOverlap":false,"labelPadding":5,"tickSize":-4,"title":"global RMSD (Å)","titlePadding":4}},
"y2":{"field":"h"},
"color":{"field":"s","type":"nominal","scale":{"domain":["k","r","b"],"range":["#000000","#ff0000","#0000ff"]},"legend":null}}},
{"data":{"values":[{}]},"mark":{"type":"rule","strokeDash":[2,2],"strokeWidth":0.8,"color":"#333333"},"encoding":{"y":{"datum":8,"type":"quantitative","axis":null}}},
{"data":{"name":"d"},"transform":[{"filter":"datum.p=='a'"}],"mark":{"type":"line","strokeWidth":2,"clip":true},
"encoding":{"x":{"field":"x","type":"quantitative","axis":null},"y":{"field":"y","type":"quantitative","axis":null},"color":{"field":"s","type":"nominal","legend":null}}}
]},
{"width":155,"height":103,"title":{"text":"(b)","anchor":"start","frame":"group","align":"right","offset":0,"dx":-4,"dy":12},"resolve":{"axis":{"x":"independent","y":"independent"}},
"layer":[
{"data":{"name":"d"},"transform":[{"filter":"datum.p=='b'"}],"mark":{"type":"area","opacity":0.15,"clip":true},
"encoding":{"x":{"field":"x","type":"quantitative","scale":{"domain":[0,250],"nice":false},"axis":{"values":[0,25,50,75,100,125,150,175,200,225,250],"labels":false,"title":null,"tickSize":-4}},
"y":{"field":"l","type":"quantitative","scale":{"domain":[0,12],"nice":false},"axis":{"values":[0,1,2,3,4,5,6,7,8,9,10,11,12],"labels":false,"title":null,"tickSize":-4}},
"y2":{"field":"h"},
"color":{"field":"s","type":"nominal","scale":{"domain":["k","r","b"],"range":["#000000","#ff0000","#0000ff"]},"legend":null}}},
{"data":{"values":[{}]},"mark":{"type":"rule","strokeDash":[2,2],"strokeWidth":0.8,"color":"#333333"},"encoding":{"y":{"datum":8,"type":"quantitative","axis":null}}},
{"data":{"name":"d"},"transform":[{"filter":"datum.p=='b'"}],"mark":{"type":"line","strokeWidth":2,"clip":true},
"encoding":{"x":{"field":"x","type":"quantitative","axis":null},"y":{"field":"y","type":"quantitative","axis":null},"color":{"field":"s","type":"nominal","legend":null}}}
]},
{"width":155,"height":103,"title":{"text":"(c)","anchor":"start","frame":"group","align":"right","offset":0,"dx":-4,"dy":12},"resolve":{"axis":{"x":"independent","y":"independent"}},
"layer":[
{"data":{"name":"d"},"transform":[{"filter":"datum.p=='c'"}],"mark":{"type":"area","opacity":0.15,"clip":true},
"encoding":{"x":{"field":"x","type":"quantitative","scale":{"domain":[0,200],"nice":false},"axis":{"values":[0,25,50,75,100,125,150,175,200],"labels":false,"title":null,"tickSize":-4}},
"y":{"field":"l","type":"quantitative","scale":{"domain":[0,12],"nice":false},"axis":{"values":[0,1,2,3,4,5,6,7,8,9,10,11,12],"labels":false,"title":null,"tickSize":-4}},
"y2":{"field":"h"},
"color":{"field":"s","type":"nominal","scale":{"domain":["k","r","b"],"range":["#000000","#ff0000","#0000ff"]},"legend":null}}},
{"data":{"values":[{}]},"mark":{"type":"rule","strokeDash":[2,2],"strokeWidth":0.8,"color":"#333333"},"encoding":{"y":{"datum":8,"type":"quantitative","axis":null}}},
{"data":{"name":"d"},"transform":[{"filter":"datum.p=='c'"}],"mark":{"type":"line","strokeWidth":2,"clip":true},
"encoding":{"x":{"field":"x","type":"quantitative","axis":null},"y":{"field":"y","type":"quantitative","axis":null},"color":{"field":"s","type":"nominal","legend":null}}}
]},
{"width":155,"height":103,"title":{"text":"(d)","anchor":"start","frame":"group","align":"right","offset":0,"dx":-53,"dy":18},"resolve":{"axis":{"x":"independent","y":"independent"}},
"layer":[
{"data":{"name":"d"},"transform":[{"filter":"datum.p=='d'"}],"mark":{"type":"area","opacity":0.15,"clip":true},
"encoding":{"x":{"field":"x","type":"quantitative","scale":{"domain":[0,250],"nice":false},"axis":{"values":[0,25,50,75,100,125,150,175,200,225,250],"labelExpr":"datum.value % 50 == 0 ? datum.label : ''","labelOverlap":false,"labelPadding":5,"title":"Time (ns)","titlePadding":3,"tickSize":-4}},
"y":{"field":"l","type":"quantitative","scale":{"domain":[0,12],"nice":false},"axis":{"values":[0,1,2,3,4,5,6,7,8,9,10,11,12],"labelExpr":"datum.value % 4 == 0 ? datum.label : ''","labelOverlap":false,"labelPadding":5,"tickSize":-4,"title":"chain RMSD (Å)","titlePadding":4}},
"y2":{"field":"h"},
"color":{"field":"s","type":"nominal","scale":{"domain":["k","r","b"],"range":["#000000","#ff0000","#0000ff"]},"legend":null}}},
{"data":{"values":[{}]},"mark":{"type":"rule","strokeDash":[2,2],"strokeWidth":0.8,"color":"#333333"},"encoding":{"y":{"datum":8,"type":"quantitative","axis":null}}},
{"data":{"name":"d"},"transform":[{"filter":"datum.p=='d'"}],"mark":{"type":"line","strokeWidth":2,"clip":true},
"encoding":{"x":{"field":"x","type":"quantitative","axis":null},"y":{"field":"y","type":"quantitative","axis":null},"color":{"field":"s","type":"nominal","legend":null}}}
]},
{"width":155,"height":103,"title":{"text":"(e)","anchor":"start","frame":"group","align":"right","offset":0,"dx":-4,"dy":12},"resolve":{"axis":{"x":"independent","y":"independent"}},
"layer":[
{"data":{"name":"d"},"transform":[{"filter":"datum.p=='e'"}],"mark":{"type":"area","opacity":0.15,"clip":true},
"encoding":{"x":{"field":"x","type":"quantitative","scale":{"domain":[0,250],"nice":false},"axis":{"values":[0,25,50,75,100,125,150,175,200,225,250],"labelExpr":"datum.value % 50 == 0 ? datum.label : ''","labelOverlap":false,"labelPadding":5,"title":"Time (ns)","titlePadding":3,"tickSize":-4}},
"y":{"field":"l","type":"quantitative","scale":{"domain":[0,12],"nice":false},"axis":{"values":[0,1,2,3,4,5,6,7,8,9,10,11,12],"labels":false,"title":null,"tickSize":-4}},
"y2":{"field":"h"},
"color":{"field":"s","type":"nominal","scale":{"domain":["k","r","b"],"range":["#000000","#ff0000","#0000ff"]},"legend":null}}},
{"data":{"values":[{}]},"mark":{"type":"rule","strokeDash":[2,2],"strokeWidth":0.8,"color":"#333333"},"encoding":{"y":{"datum":8,"type":"quantitative","axis":null}}},
{"data":{"name":"d"},"transform":[{"filter":"datum.p=='e'"}],"mark":{"type":"line","strokeWidth":2,"clip":true},
"encoding":{"x":{"field":"x","type":"quantitative","axis":null},"y":{"field":"y","type":"quantitative","axis":null},"color":{"field":"s","type":"nominal","legend":null}}}
]},
{"width":155,"height":103,"title":{"text":"(f)","anchor":"start","frame":"group","align":"right","offset":0,"dx":-4,"dy":12},"resolve":{"axis":{"x":"independent","y":"independent"}},
"layer":[
{"data":{"name":"d"},"transform":[{"filter":"datum.p=='f'"}],"mark":{"type":"area","opacity":0.15,"clip":true},
"encoding":{"x":{"field":"x","type":"quantitative","scale":{"domain":[0,200],"nice":false},"axis":{"values":[0,25,50,75,100,125,150,175,200],"labelExpr":"datum.value % 50 == 0 ? datum.label : ''","labelOverlap":false,"labelPadding":5,"title":"Time (ns)","titlePadding":3,"tickSize":-4}},
"y":{"field":"l","type":"quantitative","scale":{"domain":[0,12],"nice":false},"axis":{"values":[0,1,2,3,4,5,6,7,8,9,10,11,12],"labels":false,"title":null,"tickSize":-4}},
"y2":{"field":"h"},
"color":{"field":"s","type":"nominal","scale":{"domain":["k","r","b"],"range":["#000000","#ff0000","#0000ff"]},"legend":null}}},
{"data":{"values":[{}]},"mark":{"type":"rule","strokeDash":[2,2],"strokeWidth":0.8,"color":"#333333"},"encoding":{"y":{"datum":8,"type":"quantitative","axis":null}}},
{"data":{"name":"d"},"transform":[{"filter":"datum.p=='f'"}],"mark":{"type":"line","strokeWidth":2,"clip":true},
"encoding":{"x":{"field":"x","type":"quantitative","axis":null},"y":{"field":"y","type":"quantitative","axis":null},"color":{"field":"s","type":"nominal","legend":null}}}
]},
{"width":155,"height":103,"title":{"text":"(g)","anchor":"start","frame":"group","align":"right","offset":0,"dx":-53,"dy":24},"resolve":{"axis":{"x":"independent","y":"independent"}},
"layer":[
{"data":{"name":"d"},"transform":[{"filter":"datum.p=='g'"}],"mark":{"type":"area","opacity":0.15,"clip":true,"interpolate":"monotone"},
"encoding":{"x":{"field":"x","type":"quantitative","scale":{"domain":[1,55],"nice":false,"zero":false},"axis":{"values":[5,10,15,20,25,30,35,40,45,50,55],"labelExpr":"datum.value % 10 == 0 ? datum.label : ''","labelOverlap":false,"labelPadding":5,"title":"Residue","titlePadding":3,"tickSize":-4}},
"y":{"field":"l","type":"quantitative","scale":{"domain":[0,8],"nice":false},"axis":{"values":[0,1,2,3,4,5,6,7,8],"labelExpr":"datum.value % 4 == 0 ? datum.label : ''","labelOverlap":false,"labelPadding":5,"tickSize":-4,"title":"RMSF (Å)","titlePadding":4}},
"y2":{"field":"h"},
"color":{"field":"s","type":"nominal","scale":{"domain":["k","r","b"],"range":["#000000","#ff0000","#0000ff"]},"legend":null}}},
{"data":{"values":[{}]},"mark":{"type":"rule","strokeDash":[2,2],"strokeWidth":0.8,"color":"#333333"},"encoding":{"y":{"datum":4,"type":"quantitative","axis":null}}},
{"data":{"name":"d"},"transform":[{"filter":"datum.p=='g'"}],"mark":{"type":"line","strokeWidth":1.2,"clip":true,"interpolate":"monotone"},
"encoding":{"x":{"field":"x","type":"quantitative","axis":null},"y":{"field":"y","type":"quantitative","axis":null},"color":{"field":"s","type":"nominal","legend":null}}}
]},
{"width":155,"height":103,"title":{"text":"(h)","anchor":"start","frame":"group","align":"right","offset":0,"dx":-4,"dy":18},"resolve":{"axis":{"x":"independent","y":"independent"}},
"layer":[
{"data":{"name":"d"},"transform":[{"filter":"datum.p=='h'"}],"mark":{"type":"area","opacity":0.15,"clip":true,"interpolate":"monotone"},
"encoding":{"x":{"field":"x","type":"quantitative","scale":{"domain":[1,55],"nice":false,"zero":false},"axis":{"values":[5,10,15,20,25,30,35,40,45,50,55],"labelExpr":"datum.value % 10 == 0 ? datum.label : ''","labelOverlap":false,"labelPadding":5,"title":"Residue","titlePadding":3,"tickSize":-4}},
"y":{"field":"l","type":"quantitative","scale":{"domain":[0,8],"nice":false},"axis":{"values":[0,1,2,3,4,5,6,7,8],"labels":false,"title":null,"tickSize":-4}},
"y2":{"field":"h"},
"color":{"field":"s","type":"nominal","scale":{"domain":["k","r","b"],"range":["#000000","#ff0000","#0000ff"]},"legend":null}}},
{"data":{"values":[{}]},"mark":{"type":"rule","strokeDash":[2,2],"strokeWidth":0.8,"color":"#333333"},"encoding":{"y":{"datum":4,"type":"quantitative","axis":null}}},
{"data":{"name":"d"},"transform":[{"filter":"datum.p=='h'"}],"mark":{"type":"line","strokeWidth":1.2,"clip":true,"interpolate":"monotone"},
"encoding":{"x":{"field":"x","type":"quantitative","axis":null},"y":{"field":"y","type":"quantitative","axis":null},"color":{"field":"s","type":"nominal","legend":null}}}
]},
{"width":155,"height":103,"title":{"text":"(i)","anchor":"start","frame":"group","align":"right","offset":0,"dx":-4,"dy":18},"resolve":{"axis":{"x":"independent","y":"independent"}},
"layer":[
{"data":{"name":"d"},"transform":[{"filter":"datum.p=='i'"}],"mark":{"type":"area","opacity":0.15,"clip":true,"interpolate":"monotone"},
"encoding":{"x":{"field":"x","type":"quantitative","scale":{"domain":[1,55],"nice":false,"zero":false},"axis":{"values":[5,10,15,20,25,30,35,40,45,50,55],"labelExpr":"datum.value % 10 == 0 ? datum.label : ''","labelOverlap":false,"labelPadding":5,"title":"Residue","titlePadding":3,"tickSize":-4}},
"y":{"field":"l","type":"quantitative","scale":{"domain":[0,8],"nice":false},"axis":{"values":[0,1,2,3,4,5,6,7,8],"labels":false,"title":null,"tickSize":-4}},
"y2":{"field":"h"},
"color":{"field":"s","type":"nominal","scale":{"domain":["k","r","b"],"range":["#000000","#ff0000","#0000ff"]},"legend":null}}},
{"data":{"values":[{}]},"mark":{"type":"rule","strokeDash":[2,2],"strokeWidth":0.8,"color":"#333333"},"encoding":{"y":{"datum":4,"type":"quantitative","axis":null}}},
{"data":{"name":"d"},"transform":[{"filter":"datum.p=='i'"}],"mark":{"type":"line","strokeWidth":1.2,"clip":true,"interpolate":"monotone"},
"encoding":{"x":{"field":"x","type":"quantitative","axis":null},"y":{"field":"y","type":"quantitative","axis":null},"color":{"field":"s","type":"nominal","legend":null}}}
]}
],
"config":{
"font":"DejaVu Sans",
"view":{"stroke":"#333333","strokeWidth":1.2},
"axis":{"labelFont":"DejaVu Sans","titleFont":"DejaVu Sans","labelFontSize":14,"titleFontSize":14,"titleFontWeight":"normal","labelColor":"#000000","titleColor":"#000000","tickColor":"#333333","tickWidth":1,"domain":false,"grid":false,"labelOverlap":false,"labelFlush":false},
"title":{"font":"DejaVu Sans","fontSize":14,"fontWeight":"normal","color":"#000000"}
}
}
